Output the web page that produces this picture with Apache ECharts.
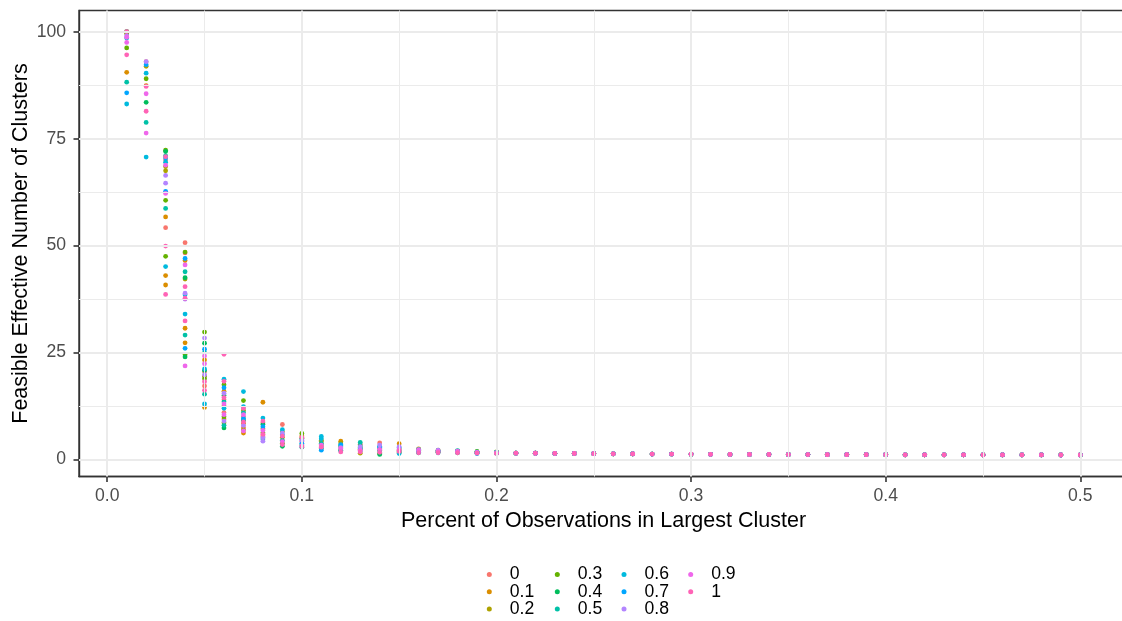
<!DOCTYPE html>
<html><head><meta charset="utf-8">
<script src="https://cdn.jsdelivr.net/npm/echarts@6/dist/echarts.min.js"></script>
<style>html,body{margin:0;padding:0;background:#fff}#c{width:1122px;height:621px}</style>
</head><body><div id="c"></div>
<script>
const groups = ['0','0.1','0.2','0.3','0.4','0.5','0.6','0.7','0.8','0.9','1'];
const colors = ['#F8766D','#DB8E00','#AEA200','#64B200','#00BD5C','#00C1A7','#00BADE','#00A6FF','#B385FF','#EF67EB','#FF63B6'];
const xValues = [0.01,0.02,0.03,0.04,0.05,0.06,0.07,0.08,0.09,0.10,
  0.11,0.12,0.13,0.14,0.15,0.16,0.17,0.18,0.19,0.20,
  0.21,0.22,0.23,0.24,0.25,0.26,0.27,0.28,0.29,0.30,
  0.31,0.32,0.33,0.34,0.35,0.36,0.37,0.38,0.39,0.40,
  0.41,0.42,0.43,0.44,0.45,0.46,0.47,0.48,0.49,0.50];
const xTicks = [0,0.1,0.2,0.3,0.4,0.5];
const xMinor = [0.05,0.15,0.25,0.35,0.45];
const yTicks = [0,25,50,75,100];
const yMinor = [12.5,37.5,62.5,87.5];

// values at x = 0.01 .. 0.20 (one or more observations per x)
const g0  = [[100],[93],[54.2,70],[50.7,48.3],[17.2,20.5],[14,11],[10,7.5],[8.6],[8.2],[4.2],[3.5],[2.5],[3.6],[3.9],[2.2],[2.0],[1.9],[1.8],[1.7],[1.6]];
const g01 = [[90.5],[87.4],[56.7,43,40.8],[30.7,27.3,46.5],[12.2,23.3],[16,9.5],[8.5,6.2],[13.4,5.5],[5.2],[5.5],[4.2],[4.3],[2.4],[2.2],[3.7],[2.5],[2.2],[1.9],[1.8],[1.5]];
const g02 = [[99.5],[91.9],[68.5,67.5],[42.2],[19.5],[12.5,8.6],[11.5,7],[7.2],[6.5],[5],[4.5],[3.9],[1.5],[2.6],[1.6],[1.8],[2.0],[2.0],[1.6],[1.7]];
const g03 = [[96.2,99.8],[89],[60.6,47.5,72.3],[24.5,48.5],[29.8,18.9],[17.5,10],[13.8],[6.3],[3.8],[6.1],[3.2],[3.0],[2.8],[1.4],[2.5],[2.2],[1.7],[1.7],[1.9],[1.8]];
const g04 = [[100],[83.5],[72],[42.5,24],[27.2,20.8],[7.4,15],[9.2],[8.2],[3.1],[3.4],[2.6],[2.2],[3.2],[1.2],[1.8],[1.6],[2.1],[1.6],[1.5],[1.6]];
const g05 = [[88.2],[78.8],[58.7,71],[43.9,29.1],[15.3,25],[13.5,8],[11],[4.8],[4.5],[2.9],[3.8],[3.3],[4.0],[3.1],[2.0],[2.4],[1.8],[2.1],[1.7],[1.5]];
const g06 = [[83.1,98.5],[90.3,70.7],[45.1,69.5],[34,38.5],[13,21.2],[18.8,12],[15.9,12.4],[9.7],[7],[4.8],[5.4,4.9],[2.0],[2.0],[2.0],[1.4],[1.9],[1.6],[1.8],[1.8],[1.7]];
const g07 = [[85.7],[92.3],[62.7,70.5],[47,26],[25.8],[16.8],[9.6],[7.7],[5.8],[3.8],[2.2],[3.5],[2.6],[2.9],[2.8],[1.7],[2.0],[1.9],[1.4],[1.6]];
const g08 = [[99],[93],[64.6,66.4],[38.9,37.5],[28.4,19.8],[15.5,9],[8],[5.2,4.3],[6.2],[4.5],[3.0],[2.8],[3.0],[3.4],[3.0],[2.1],[2.2],[1.7],[1.6],[1.5]];
const g09 = [[98.7,97.5],[85.5,76.3],[62.2,68.8],[45.5,21.9],[24.2,22.4],[13,10.5],[10.5,6.7],[6.8],[4.2],[3.2],[3.4],[2.6],[2.2],[2.4],[2.3],[2.3],[1.9],[2.0],[1.7],[1.6]];
const g1  = [[94.6,100],[81.4,87.2],[49.9,38.6,70.8],[40.4,37.7,32.4],[16.2,18.2],[24.6,18.3,14.5],[12,8.8],[9.0,5.9],[5.5,3.5],[5.2,3.0],[2.9],[1.8],[1.8],[1.7],[1.9],[1.6],[1.6],[1.6],[1.5],[1.45]];
// values at x = 0.21 .. 0.50 (all groups coincide)
const tailValues = [1.5,1.48,1.45,1.42,1.38,1.35,1.32,1.3,1.28,1.25,
  1.24,1.22,1.2,1.19,1.18,1.17,1.16,1.15,1.14,1.13,
  1.12,1.12,1.11,1.11,1.1,1.1,1.09,1.09,1.08,1.08];
const groupValues = [g0,g01,g02,g03,g04,g05,g06,g07,g08,g09,g1];

function buildPoints(early){
  const pts = [];
  early.forEach((vals,i)=>vals.forEach(v=>pts.push([xValues[i], v])));
  tailValues.forEach((v,j)=>pts.push([xValues[early.length+j], v]));
  return pts;
}

const FONT = "'Liberation Sans', Arial, Helvetica, sans-serif";
const chart = echarts.init(document.getElementById('c'), null, {renderer:'canvas'});

const gridLines = [].concat(
  xMinor.map(v=>({xAxis:v, lineStyle:{width:1}})),
  yMinor.map(v=>({yAxis:v, lineStyle:{width:1}})),
  xTicks.map(v=>({xAxis:v, lineStyle:{width:2}})),
  yTicks.map(v=>({yAxis:v, lineStyle:{width:2}}))
);

const series = [{
  type:'line', data:[], silent:true, z:1,
  markLine:{silent:true, symbol:['none','none'], animation:false, label:{show:false},
    emphasis:{disabled:true},
    lineStyle:{color:'#EBEBEB', type:'solid'}, data:gridLines}
}].concat(groups.map((g,i)=>({
  name:g, type:'scatter', data:buildPoints(groupValues[i]), symbol:'circle', symbolSize:4.8,
  itemStyle:{color:colors[i], opacity:1}, z:3, silent:true, animation:false
})));

const legendCols = [['0','0.1','0.2'],['0.3','0.4','0.5'],['0.6','0.7','0.8'],['0.9','1']];
const legendLefts = [486.8,554.8,621.5,688.2];
const legends = legendCols.map((d,k)=>({
  data:d, orient:'vertical', left:legendLefts[k], top:565.5, icon:'circle',
  itemWidth:31, itemHeight:5, itemGap:-0.8, selectedMode:false, padding:0,
  textStyle:{fontFamily:FONT, fontSize:17.6, color:'#000', lineHeight:16.4}
}));

const tickStyle = {color:'#333333', width:1.6};

chart.setOption({
  animation:false,
  backgroundColor:'#fff',
  grid:{left:79, top:10.5, width:1049, height:466, show:true, borderColor:'#333333', borderWidth:1.4, z:5,
    containLabel:false, outerBoundsMode:'none'},
  legend:legends,
  xAxis:{type:'value', min:-0.0145, max:0.5245,
    name:'Percent of Observations in Largest Cluster', nameLocation:'middle', nameGap:34, nameMoveOverlap:false,
    nameTextStyle:{fontFamily:FONT, fontSize:21.5, color:'#000'},
    axisLine:{show:true, onZero:false, lineStyle:{color:'#333333', width:1.4}},
    axisTick:{show:true, customValues:xTicks, length:5.5, lineStyle:tickStyle},
    axisLabel:{customValues:xTicks, formatter:v=>v.toFixed(1), margin:11, fontFamily:FONT, fontSize:17.6, color:'#4D4D4D'},
    splitLine:{show:false}},
  yAxis:{type:'value', min:-3.95, max:104.95,
    name:'Feasible Effective Number of Clusters', nameLocation:'middle', nameGap:47, nameMoveOverlap:false,
    nameTextStyle:{fontFamily:FONT, fontSize:21.5, color:'#000'},
    axisLine:{show:true, onZero:false, lineStyle:{color:'#333333', width:1.4}},
    axisTick:{show:true, customValues:yTicks, length:5.5, lineStyle:tickStyle},
    axisLabel:{customValues:yTicks, formatter:v=>String(v), margin:13, fontFamily:FONT, fontSize:17.6, color:'#4D4D4D'},
    splitLine:{show:false}},
  series:series
});
</script></body></html>
